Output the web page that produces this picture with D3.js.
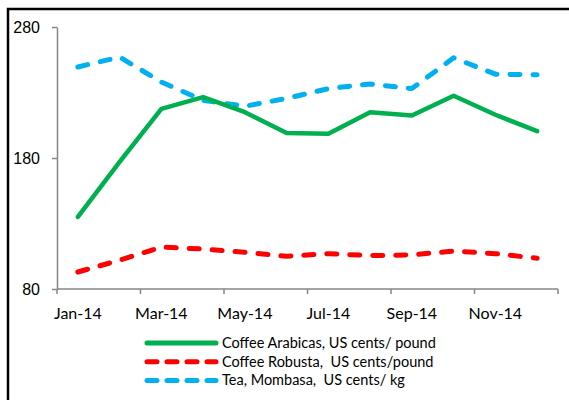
<!DOCTYPE html>
<html>
<head>
<meta charset="utf-8">
<script src="https://cdn.jsdelivr.net/npm/d3@7"></script>
<style>
  body { margin: 0; background: #fff; }
  svg { display: block; font-family: Lato, "Liberation Sans", sans-serif; }
  .axis path, .axis line { stroke: #868686; stroke-width: 1.5; }
  .axis text { font-size: 16px; fill: #000; }
  .legend text { white-space: pre; }
</style>
</head>
<body>
<div id="chart"></div>
<script>
var months = ["Jan-14", "Feb-14", "Mar-14", "Apr-14", "May-14", "Jun-14",
  "Jul-14", "Aug-14", "Sep-14", "Oct-14", "Nov-14", "Dec-14"];
var arabica = [135, 177, 217.5, 226.5, 215, 199, 198.5, 215, 212.5, 227.5, 213, 200.5];
var robusta = [93, 102, 112, 110.5, 108, 105, 107, 105.5, 106, 109, 107, 103.5];
var tea = [249.5, 257, 238, 224, 219.5, 225.5, 233, 236.5, 233, 256.5, 244, 243.5];
var yTicks = [80, 180, 280];
var seriesNames = ["Coffee Arabicas, US cents/ pound", "Coffee Robusta,  US cents/pound", "Tea, Mombasa,  US cents/ kg"];

var width = 569, height = 400;

var svg = d3.select("#chart").append("svg")
  .attr("width", width)
  .attr("height", height);

// outer frame (right and bottom run off the picture)
svg.append("rect")
  .attr("x", 8).attr("y", 9)
  .attr("width", 620).attr("height", 500)
  .attr("fill", "none")
  .attr("stroke", "#000")
  .attr("stroke-width", 2.5);

var x = d3.scaleBand()
  .domain(months)
  .range([57, 558]);

var y = d3.scaleLinear()
  .domain([80, 280])
  .range([289, 27]);

// y axis
svg.append("g")
  .attr("class", "axis")
  .attr("transform", "translate(57,0)")
  .call(d3.axisLeft(y).tickValues(yTicks).tickSize(5).tickPadding(12).tickSizeOuter(0))
  .call(g => g.selectAll("text").attr("dy", "0.35em"));

// x axis: ticks between categories, every second one
var xAxis = svg.append("g")
  .attr("class", "axis")
  .attr("transform", "translate(0,289)");

xAxis.append("line")
  .attr("x1", x.range()[0]).attr("x2", x.range()[1]);

var boundaries = d3.range(0, months.length + 1, 2).map(i => x.range()[0] + i * x.step());
xAxis.selectAll(".tk")
  .data(boundaries)
  .enter().append("line")
  .attr("class", "tk")
  .attr("x1", d => d).attr("x2", d => d)
  .attr("y1", 0).attr("y2", 5);

xAxis.selectAll(".lbl")
  .data(months.filter((m, i) => i % 2 === 0))
  .enter().append("text")
  .attr("class", "lbl")
  .attr("x", d => x(d) + x.bandwidth() / 2)
  .attr("y", 30)
  .attr("text-anchor", "middle")
  .text(d => d);

var line = d3.line()
  .x((d, i) => x(months[i]) + x.bandwidth() / 2)
  .y(d => y(d));

var series = [
  { values: tea, color: "#00B0F0", dash: "10,13", width: 5 },
  { values: arabica, color: "#00B050", dash: null, width: 4.5 },
  { values: robusta, color: "#FF0000", dash: "10,13", width: 5 }
];

svg.selectAll(".series")
  .data(series)
  .enter().append("path")
  .attr("class", "series")
  .attr("d", d => line(d.values))
  .attr("fill", "none")
  .attr("stroke", d => d.color)
  .attr("stroke-width", d => d.width)
  .attr("stroke-linecap", "round")
  .attr("stroke-linejoin", "round")
  .attr("stroke-dasharray", d => d.dash);

// legend
var legendItems = [
  { name: seriesNames[0], color: "#00B050", dash: null },
  { name: seriesNames[1], color: "#FF0000", dash: "10,10" },
  { name: seriesNames[2], color: "#00B0F0", dash: "10,10" }
];

var legend = svg.selectAll(".legend")
  .data(legendItems)
  .enter().append("g")
  .attr("class", "legend")
  .attr("transform", (d, i) => "translate(0," + (343 + i * 18.7) + ")");

legend.append("line")
  .attr("x1", 147).attr("x2", 216)
  .attr("stroke", d => d.color)
  .attr("stroke-width", 5)
  .attr("stroke-linecap", "round")
  .attr("stroke-dasharray", d => d.dash);

legend.append("text")
  .attr("x", 222)
  .attr("dy", "0.35em")
  .style("font-size", "14.5px")
  .text(d => d.name);
</script>
</body>
</html>
